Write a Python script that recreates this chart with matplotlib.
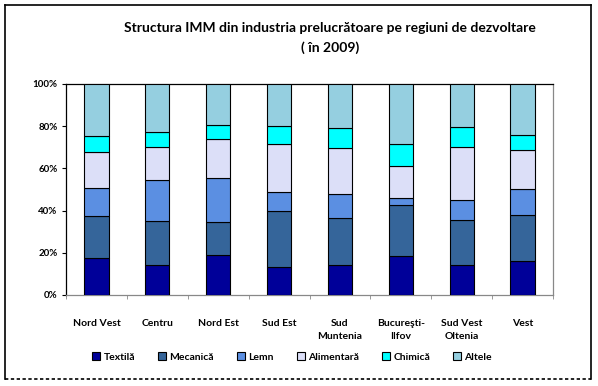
import matplotlib
matplotlib.use("Agg")
import matplotlib.pyplot as plt
from matplotlib.lines import Line2D
import numpy as np

plt.rcParams['font.family'] = ['Lato', 'DejaVu Sans']

regions = ["Nord Vest", "Centru", "Nord Est", "Sud Est", "Sud\nMuntenia",
           "Bucureşti-\nIlfov", "Sud Vest\nOltenia", "Vest"]
series_names = ["Textilă", "Mecanică", "Lemn", "Alimentară", "Chimică", "Altele"]
textila    = [17.3, 14.3, 19.1, 13.4, 14.3, 18.3, 14.3, 16.2]
mecanica   = [20.3, 20.7, 15.7, 26.6, 22.2, 24.5, 21.4, 21.9]
lemn       = [13.1, 19.5, 20.6,  8.7, 11.5,  3.3,  9.3, 12.1]
alimentara = [17.0, 15.7, 18.5, 22.8, 21.8, 15.2, 25.1, 18.3]
chimica    = [ 7.7,  7.0,  6.6,  8.5,  9.3, 10.5,  9.6,  7.2]
altele     = [24.6, 22.8, 19.5, 20.0, 20.9, 28.2, 20.3, 24.3]
yticks = [0, 20, 40, 60, 80, 100]
ytick_labels = ["0%", "20%", "40%", "60%", "80%", "100%"]

colors = ["#000099", "#35659a", "#5b8fe2", "#dcdff8", "#00ffff", "#95cfe0"]

W, H = 598, 386
fig = plt.figure(figsize=(W / 100, H / 100), dpi=100)
ax = fig.add_axes([66 / W, (H - 295) / H, 487 / W, 211 / H])

x = np.arange(len(regions))
bottom = np.zeros(len(regions))
handles = []
for name, vals, c in zip(series_names,
                         [textila, mecanica, lemn, alimentara, chimica, altele],
                         colors):
    b = ax.bar(x, vals, 0.4, bottom=bottom, color=c, edgecolor="black",
               linewidth=0.8, label=name, zorder=3)
    handles.append(b)
    bottom += np.array(vals)

ax.set_xlim(-0.5, len(regions) - 0.5)
ax.set_ylim(0, 100)
ax.set_yticks(yticks)
ax.set_yticklabels(ytick_labels, fontsize=7, fontweight="bold")
ax.set_xticks(x)
ax.set_xticklabels(regions, fontsize=7.5, fontweight="bold", linespacing=1.6,
                   va="top")
ax.tick_params(axis="x", which="major", length=0, pad=17)
ax.set_xticks(np.arange(len(regions) + 1) - 0.5, minor=True)
ax.tick_params(axis="x", which="minor", length=3, color="#888888", direction="out")
ax.tick_params(axis="y", length=3, color="black", direction="out", pad=3)

for s in ["top", "left"]:
    ax.spines[s].set_color("black")
    ax.spines[s].set_linewidth(0.9)
for s in ["right", "bottom"]:
    ax.spines[s].set_color("#888888")
    ax.spines[s].set_linewidth(0.9)

fig.text(330 / W, 1 - 28 / H,
         "Structura IMM din industria prelucrătoare pe regiuni de dezvoltare",
         ha="center", va="center", fontsize=10, fontweight="bold")
fig.text(330 / W, 1 - 48 / H, "( în 2009)", ha="center", va="center",
         fontsize=10, fontweight="bold")

leg = fig.legend(handles=handles, labels=series_names, loc="center",
                 bbox_to_anchor=(292 / W, 1 - 357 / H), ncol=6, frameon=False,
                 fontsize=7.5, handlelength=0.8, handleheight=0.8,
                 handletextpad=0.3, columnspacing=2.2, prop={"weight": "bold", "size": 7.5})

# figure border
def fx(px):
    return px / W

def fy(py):
    return 1 - py / H

fig.add_artist(Line2D([fx(5), fx(5)], [fy(5), fy(379)], color="black", lw=1.2))
fig.add_artist(Line2D([fx(5), fx(591)], [fy(5), fy(5)], color="black", lw=1.2))
fig.add_artist(Line2D([fx(591), fx(591)], [fy(5), fy(379)], color="black", lw=1.2))
fig.add_artist(Line2D([fx(5), fx(591)], [fy(379), fy(379)], color="black", lw=1.2,
                      linestyle=(0, (2, 1.5))))

fig.savefig("out.png", dpi=100)
